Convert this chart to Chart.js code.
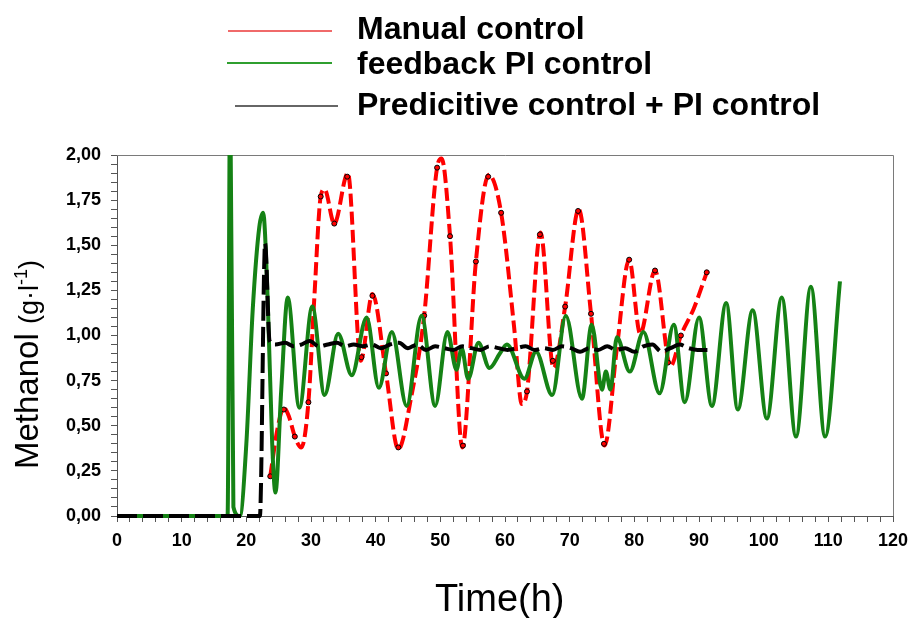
<!DOCTYPE html>
<html>
<head>
<meta charset="utf-8">
<script src="https://cdn.jsdelivr.net/npm/chart.js@4.4.1/dist/chart.umd.min.js"></script>
<style>
  body { margin: 0; background: #fff; font-family: "Liberation Sans", Arial, sans-serif; }
  #wrap { position: relative; width: 912px; height: 618px; overflow: hidden; }
  #chart-box { position: absolute; left: 0; top: 0; width: 912px; height: 618px; }
  .leg-line { position: absolute; height: 2px; }
  .leg-text { position: absolute; left: 357px; font-weight: bold; font-size: 32px; line-height: 32px; white-space: nowrap; color: #000; }
  #ytitle { position: absolute; left: 7px; top: 469px; transform: rotate(-90deg); transform-origin: 0 0;
            white-space: nowrap; font-size: 33px; line-height: 40px; color: #000; }
  #ytitle .unit { font-size: 27px; }
  #ytitle sup { font-size: 18px; line-height: 0; vertical-align: 11px; }
  #xtitle { position: absolute; left: 435px; top: 578px; white-space: nowrap; font-size: 38px; line-height: 40px; color: #000; }
</style>
</head>
<body>
<div id="wrap">
  <div id="chart-box"><canvas id="methanolChart"></canvas></div>
  <div id="legend"></div>
  <div id="ytitle">Methanol <span class="unit">(g·l<sup>-1</sup>)</span></div>
  <div id="xtitle">Time(h)</div>
</div>
<script>
// series names as in the legend
const seriesNames = ["Manual control", "feedback PI control", "Predicitive control + PI control"];

// axis ticks
const xTickLabels = [0, 10, 20, 30, 40, 50, 60, 70, 80, 90, 100, 110, 120];
const yTickLabels = [0, 0.25, 0.5, 0.75, 1, 1.25, 1.5, 1.75, 2];

// Manual control (red dashed curve)
const manualTime = [23.7, 24.8, 25.8, 26.6, 27.5, 28.5, 29.6, 30.5, 31.5, 32.1,
                    33.6, 35.7, 37.7, 39.5, 41.6, 43.5, 45.5, 47.5, 49.5, 50.2,
                    51.5, 53.4, 55.5, 57.5, 59.4, 61.4, 62.6, 63.4, 65.5, 67.5,
                    69.3, 71.4, 73.3, 75.4, 77.3, 79.2, 80.9, 83.2, 85.6, 87.2,
                    89.2, 91.2];
const manualValue = [0.22, 0.48, 0.60, 0.55, 0.44, 0.38, 0.63, 1.20, 1.77, 1.81,
                     1.62, 1.90, 0.86, 1.23, 0.79, 0.37, 0.66, 1.11, 1.93, 1.98,
                     1.55, 0.38, 1.41, 1.89, 1.68, 1.05, 0.62, 0.69, 1.57, 0.82,
                     1.16, 1.70, 1.12, 0.39, 0.93, 1.42, 1.01, 1.36, 0.83, 1.00,
                     1.15, 1.35];
// measured samples (markers on the red curve)
const manualSampleTime = [23.7, 25.8, 27.5, 29.6, 31.5, 33.6, 35.6, 37.8, 39.5, 41.6,
                          43.5, 47.5, 49.5, 51.5, 53.5, 55.5, 57.4, 59.4, 63.4, 65.4,
                          67.4, 69.3, 71.3, 73.3, 75.3, 79.2, 83.2, 85.2, 87.2, 91.2];
const manualSampleValue = [0.22, 0.59, 0.44, 0.63, 1.77, 1.62, 1.88, 0.88, 1.22, 0.79,
                           0.38, 1.11, 1.93, 1.55, 0.39, 1.41, 1.88, 1.68, 0.69, 1.56,
                           0.86, 1.16, 1.69, 1.12, 0.40, 1.42, 1.36, 0.85, 1.00, 1.35];

// feedback PI control (green)
const piTime = [0, 17.1, 17.5, 18.0, 19.0, 20.0, 21.0, 22.0, 22.6, 23.3,
                24.0, 24.5, 25.4, 26.4, 28.2, 30.2, 32.1, 34.2, 36.3, 38.6,
                40.5, 42.5, 44.8, 47.1, 49.2, 51.1, 52.5, 53.3, 54.3, 55.9,
                57.6, 59.2, 60.3, 63.0, 64.8, 67.3, 69.4, 71.9, 73.4, 75.0,
                75.6, 76.3, 77.3, 79.3, 81.4, 83.9, 86.1, 87.8, 90.0, 92.0,
                94.2, 96.0, 98.3, 100.5, 102.8, 105.0, 107.3, 109.5, 111.8];
const piValue = [0, 0, 2.4, 0.05, 0, 0.4, 1.15, 1.6, 1.68, 1.2,
                 0.4, 0.13, 0.7, 1.21, 0.60, 1.16, 0.67, 1.01, 0.78, 1.10,
                 0.71, 1.02, 0.61, 1.11, 0.61, 1.02, 0.81, 0.93, 0.76, 0.96,
                 0.82, 0.90, 0.95, 0.76, 0.91, 0.67, 1.11, 0.65, 1.06, 0.70,
                 0.80, 0.70, 0.99, 0.80, 1.02, 0.68, 1.06, 0.63, 1.10, 0.61,
                 1.18, 0.59, 1.14, 0.54, 1.21, 0.44, 1.27, 0.44, 1.30];

// Predictive + PI control (black dashed)
const predTime = [0, 22.1, 22.9, 23.6, 24.5, 26.0, 27.3, 28.5, 29.8, 31.2,
                  32.6, 34.0, 35.3, 36.6, 38.0, 39.4, 40.8, 42.2, 43.6, 45.0,
                  46.4, 47.8, 49.2, 50.6, 52.0, 53.4, 54.8, 56.2, 57.6, 59.0,
                  60.4, 61.8, 63.2, 64.6, 66.0, 67.4, 68.8, 70.2, 71.6, 73.0,
                  74.4, 75.8, 77.2, 78.6, 80.0, 81.4, 82.8, 84.2, 85.6, 87.0,
                  88.4, 89.8, 91.3];
const predValue = [0, 0, 1.51, 0.97, 0.95, 0.96, 0.94, 0.95, 0.97, 0.94,
                   0.95, 0.96, 0.94, 0.95, 0.94, 0.95, 0.93, 0.95, 0.96, 0.93,
                   0.95, 0.92, 0.94, 0.93, 0.92, 0.94, 0.93, 0.92, 0.94, 0.93,
                   0.92, 0.93, 0.94, 0.92, 0.93, 0.92, 0.94, 0.93, 0.91, 0.93,
                   0.92, 0.94, 0.92, 0.93, 0.91, 0.94, 0.95, 0.91, 0.93, 0.95,
                   0.93, 0.92, 0.92];

const seriesColors = ["#ff0000", "#158215", "#000000"];

function toPoints(xs, ys) {
    return xs.map((x, i) => ({ x: x, y: ys[i] }));
}

function isLabelled(v, list) {
    return list.some(t => Math.abs(t - v) < 1e-6);
}

// html legend: short line + bold label
const legendPos = [
    { lineTop: 30, lineLeft: 228, lineWidth: 104, textTop: 12, lineColor: "#f06a6a" },
    { lineTop: 62, lineLeft: 227, lineWidth: 105, textTop: 47, lineColor: "#2f9f2f" },
    { lineTop: 105, lineLeft: 235, lineWidth: 103, textTop: 88, lineColor: "#666666" }
];
const legend = document.getElementById("legend");
seriesNames.forEach((name, i) => {
    const p = legendPos[i];
    legend.innerHTML += `
        <div class="leg-line" style="top:${p.lineTop}px;left:${p.lineLeft}px;width:${p.lineWidth}px;background:${p.lineColor}"></div>
        <div class="leg-text" style="top:${p.textTop}px">${name}</div>`;
});

// grey frame on top and right of the plot
const plotFrame = {
    id: "plotFrame",
    beforeDatasetsDraw(chart) {
        const a = chart.chartArea;
        const c = chart.ctx;
        c.save();
        c.strokeStyle = "#7a7a7a";
        c.lineWidth = 1;
        c.beginPath();
        c.moveTo(a.left, a.top + 0.5);
        c.lineTo(a.right + 0.5, a.top + 0.5);
        c.lineTo(a.right + 0.5, a.bottom);
        c.stroke();
        c.restore();
    }
};

const tickFont = { family: "'Liberation Sans', Arial, sans-serif", size: 18, weight: "bold" };
const lineClip = { left: 6, right: 6, top: 0, bottom: 6 };

new Chart(document.getElementById("methanolChart"), {
    type: "line",
    data: {
        datasets: [
            {
                label: seriesNames[2],
                data: toPoints(predTime, predValue),
                borderColor: seriesColors[2],
                borderWidth: 4,
                borderDash: [20, 6],
                pointRadius: 0,
                cubicInterpolationMode: "monotone",
                clip: lineClip,
                order: 0
            },
            {
                label: seriesNames[1],
                data: toPoints(piTime, piValue),
                borderColor: seriesColors[1],
                borderWidth: 4,
                pointRadius: 0,
                cubicInterpolationMode: "monotone",
                clip: lineClip,
                order: 1
            },
            {
                label: seriesNames[0],
                data: toPoints(manualTime, manualValue),
                borderColor: seriesColors[0],
                borderWidth: 4,
                borderDash: [13, 5],
                pointRadius: 0,
                cubicInterpolationMode: "monotone",
                clip: lineClip,
                order: 2
            },
            {
                label: seriesNames[0] + " samples",
                data: toPoints(manualSampleTime, manualSampleValue),
                showLine: false,
                pointRadius: 2.5,
                pointBackgroundColor: seriesColors[0],
                pointBorderColor: "#000",
                pointBorderWidth: 1,
                clip: lineClip,
                order: 1.5
            }
        ]
    },
    options: {
        responsive: true,
        maintainAspectRatio: false,
        animation: false,
        layout: { padding: { top: 155, right: 19, bottom: 0, left: 0 } },
        plugins: {
            legend: { display: false },
            tooltip: { enabled: false }
        },
        scales: {
            x: {
                type: "linear",
                min: 0,
                max: 120,
                afterFit: s => { s.height = 102; s.paddingRight = 0; s.paddingLeft = 0; },
                ticks: {
                    stepSize: 2,
                    autoSkip: false,
                    maxRotation: 0,
                    padding: 8,
                    color: "#000",
                    font: tickFont,
                    callback: v => isLabelled(v, xTickLabels) ? String(v) : ""
                },
                grid: { drawOnChartArea: false, drawTicks: true, tickLength: 6, color: "#555" },
                border: { display: true, color: "#555", width: 1 }
            },
            y: {
                min: 0,
                max: 2,
                afterFit: s => { s.width = 117; },
                ticks: {
                    stepSize: 0.05,
                    autoSkip: false,
                    padding: 10,
                    color: "#000",
                    font: tickFont,
                    callback: v => isLabelled(v, yTickLabels) ? v.toFixed(2).replace(".", ",") : ""
                },
                grid: { drawOnChartArea: false, drawTicks: true, tickLength: 6, color: "#555" },
                border: { display: true, color: "#555", width: 1 }
            }
        }
    },
    plugins: [plotFrame]
});
</script>
</body>
</html>
